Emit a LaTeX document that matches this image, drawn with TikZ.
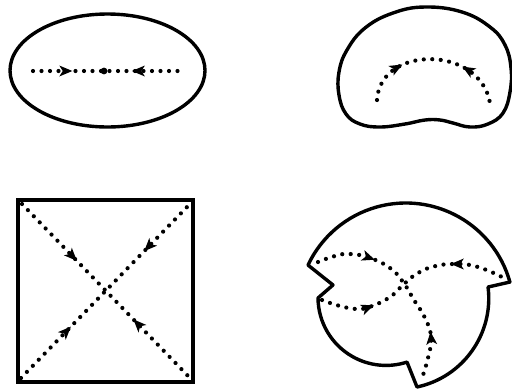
\documentclass[tikz,border=0pt]{standalone}
\usetikzlibrary{decorations.markings}
\begin{document}
\begin{tikzpicture}[x=1pt,y=-1pt,
  outline/.style={line width=3.4pt, line join=round},
  dotline/.style={line width=4.2pt, line cap=round, dash pattern=on 0pt off 8.5pt},
  arrs/.style 2 args={postaction={decorate, decoration={markings,
     mark=at position #1 with {\fill[solid] (4pt,0) -- (-9pt,5.5pt) -- (-5.5pt,0) -- (-9pt,-5.5pt) -- cycle;},
     mark=at position #2 with {\fill[solid] (-4pt,0) -- (9pt,5.5pt) -- (5.5pt,0) -- (9pt,-5.5pt) -- cycle;}}}}
]
\useasboundingbox (0,0) rectangle (512,389);

% panel 1: ellipse
\draw[outline] (107.5,70.5) ellipse [x radius=97.5, y radius=56.5];
\draw[dotline, arrs={0.24}{0.70}] (33,71) -- (180,71);
\fill (104,71) circle (3.4);

% panel 2: kidney
\draw[outline] plot[smooth cycle, tension=0.7] coordinates {
  (425,7) (462,12) (490,27) (505,45) (511,68) (510,92) (503,113) (488,124)
  (470,127) (453,123) (440,120) (425,120) (405,124) (380,127) (360,124)
  (346,114) (339,95) (339,72) (347,50) (365,28) (393,13)};
\draw[dotline, arrs={0.27}{0.72}] (377,100) .. controls (380,45) and (480,45) .. (490,103);

% panel 3: square
\draw[line width=3.8pt] (18,200) rectangle (193,382);
\draw[dotline, arrs={0.31}{0.68}] (22,204) -- (190,378);
\draw[dotline, arrs={0.28}{0.75}] (21,378) -- (189,205);

% panel 4: notched disc made of three arcs
\draw[outline] (405.8,311.1) ++(-15.6:108.1) arc[start angle=-15.6, end angle=-154.8, radius=108.1]
  -- (333,285) -- (318,298)
  arc[start angle=179.5, end angle=72, radius=68]
  -- (417,387)
  arc[start angle=78, end angle=-7.2, radius=90.6]
  -- cycle;
\draw[dotline, arrs={0.27}{0.77}] plot[smooth, tension=0.8] coordinates {
  (318,262) (335,256) (350,254) (370,258) (390,268) (403,282) (414,300) (425,318) (431,337) (428,358) (421,381)};
\draw[dotline, arrs={0.25}{0.74}] plot[smooth, tension=0.8] coordinates {
  (322,300) (340,306) (358,309) (372,306) (390,297) (403,285) (415,275) (432,267) (455,264) (478,267) (504,278)};
\end{tikzpicture}
\end{document}
